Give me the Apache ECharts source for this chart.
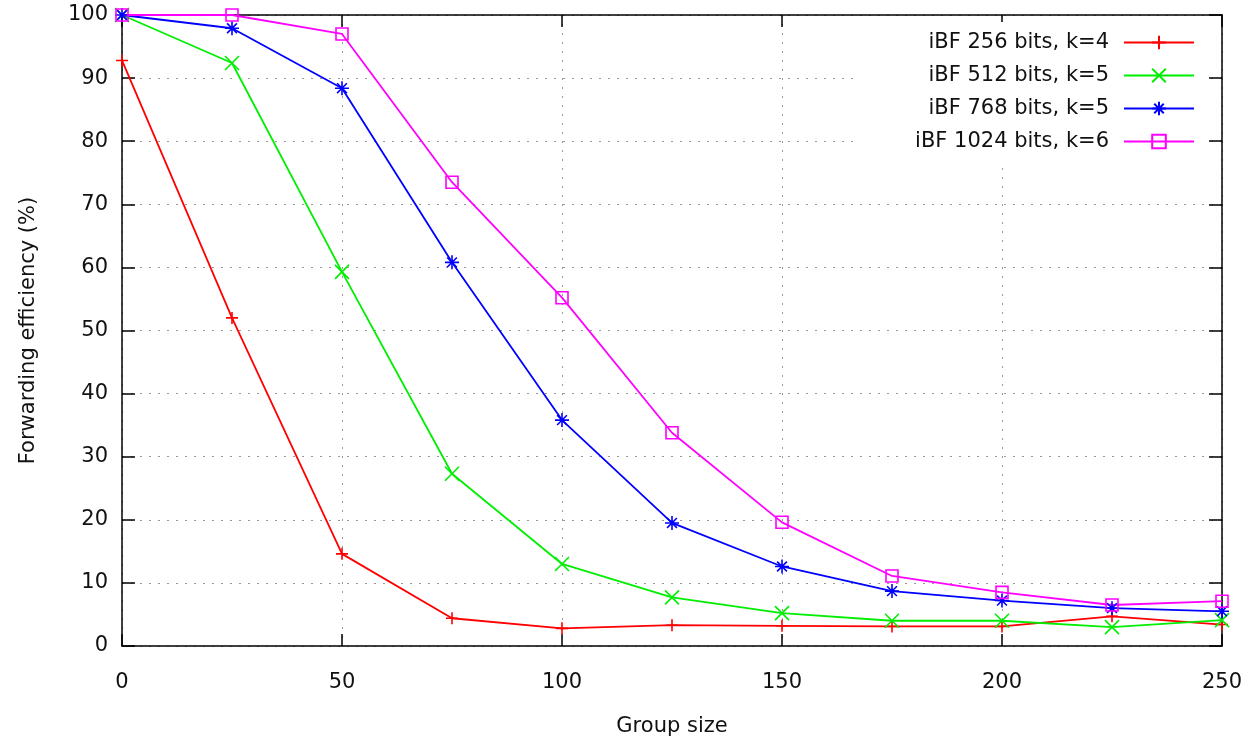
<!DOCTYPE html>
<html>
<head>
<meta charset="utf-8">
<script src="https://cdn.jsdelivr.net/npm/echarts@6/dist/echarts.min.js"></script>
<style>
html,body{margin:0;padding:0;background:#fff;}
#chart{width:1250px;height:742px;}
</style>
</head>
<body>
<div id="chart"></div>
<script>
var groupSize = [0, 25, 50, 75, 100, 125, 150, 175, 200, 225, 250];
var seriesNames = ['iBF 256 bits, k=4', 'iBF 512 bits, k=5', 'iBF 768 bits, k=5', 'iBF 1024 bits, k=6'];
var ibf256 = [92.8, 52.0, 14.6, 4.4, 2.8, 3.3, 3.2, 3.1, 3.1, 4.7, 3.4];
var ibf512 = [100, 92.4, 59.3, 27.3, 13.0, 7.7, 5.2, 4.0, 4.0, 3.0, 4.1];
var ibf768 = [100, 97.9, 88.4, 60.8, 35.8, 19.5, 12.6, 8.7, 7.2, 6.0, 5.5];
var ibf1024 = [100, 100, 97.0, 73.5, 55.2, 33.8, 19.6, 11.1, 8.5, 6.5, 7.1];

var colors = ['#ff0000', '#00ee00', '#0000ff', '#ff00ff'];
var symbols = [
    'path://M5,0L5,10M0,5L10,5',
    'path://M0,0L10,10M10,0L0,10',
    'path://M5,0L5,10M0,5L10,5M1.5,1.5L8.5,8.5M8.5,1.5L1.5,8.5',
    'rect'
];
var symbolSizes = [12, 14, 14, 12];
var allData = [ibf256, ibf512, ibf768, ibf1024];

var font = 'DejaVu Sans';
var fontSize = 21;

function pairs(arr){
    var out = [];
    for(var i=0;i<groupSize.length;i++){
        out.push([groupSize[i], arr[i]]);
    }
    return out;
}

var series = [];
for(var s=0;s<allData.length;s++){
    series.push({
        name: seriesNames[s],
        type: 'line',
        data: pairs(allData[s]),
        symbol: symbols[s],
        symbolSize: symbolSizes[s],
        showAllSymbol: true,
        lineStyle: {color: colors[s], width: 1.8},
        itemStyle: {
            color: s == 3 ? 'rgba(0,0,0,0)' : colors[s],
            borderColor: colors[s],
            borderWidth: 1.6
        },
        emphasis: {disabled: true},
        animation: false
    });
}

// gnuplot style: ticks pointing inwards on all four sides
function xAx(main){
    return {
        type: 'value',
        position: main ? 'bottom' : 'top',
        min: 0, max: 250, interval: 50,
        name: main ? 'Group size' : '',
        nameLocation: 'middle',
        nameGap: 70,
        nameTextStyle: {fontFamily: font, fontSize: fontSize, color: '#111'},
        axisLine: {show: true, onZero: false, lineStyle: {color: '#000', width: 1.5}},
        axisTick: {show: true, inside: true, length: 12, lineStyle: {color: '#000', width: 1.5}},
        axisLabel: {show: main, fontFamily: font, fontSize: fontSize, color: '#111', margin: 26},
        splitLine: {show: main, lineStyle: {color: '#999', type: [2, 7], width: 1}}
    };
}
function yAx(main){
    return {
        type: 'value',
        position: main ? 'left' : 'right',
        min: 0, max: 100, interval: 10,
        name: main ? 'Forwarding efficiency (%)' : '',
        nameLocation: 'middle',
        nameGap: 83,
        nameRotate: 90,
        nameTextStyle: {fontFamily: font, fontSize: fontSize, color: '#111'},
        axisLine: {show: true, onZero: false, lineStyle: {color: '#000', width: 1.5}},
        axisTick: {show: true, inside: true, length: 13, lineStyle: {color: '#000', width: 1.5}},
        axisLabel: {show: main, fontFamily: font, fontSize: fontSize, color: '#111', margin: 14},
        splitLine: {show: main, lineStyle: {color: '#999', type: [2, 7], width: 1}}
    };
}

var chart = echarts.init(document.getElementById('chart'));
var option = {
    animation: false,
    grid: {left: 122, right: 28, top: 15, bottom: 93, containLabel: false},
    legend: {
        orient: 'vertical',
        right: 45,
        top: 22,
        align: 'right',
        padding: [10, 10, 10, 55],
        backgroundColor: '#fff',
        itemWidth: 70,
        itemHeight: 17,
        itemGap: 12,
        textStyle: {fontFamily: font, fontSize: fontSize, color: '#111', lineHeight: 20, padding: [0, 10, 0, 0]},
        data: seriesNames
    },
    xAxis: [xAx(true), xAx(false)],
    yAxis: [yAx(true), yAx(false)],
    series: series
};
chart.setOption(option);
</script>
</body>
</html>
